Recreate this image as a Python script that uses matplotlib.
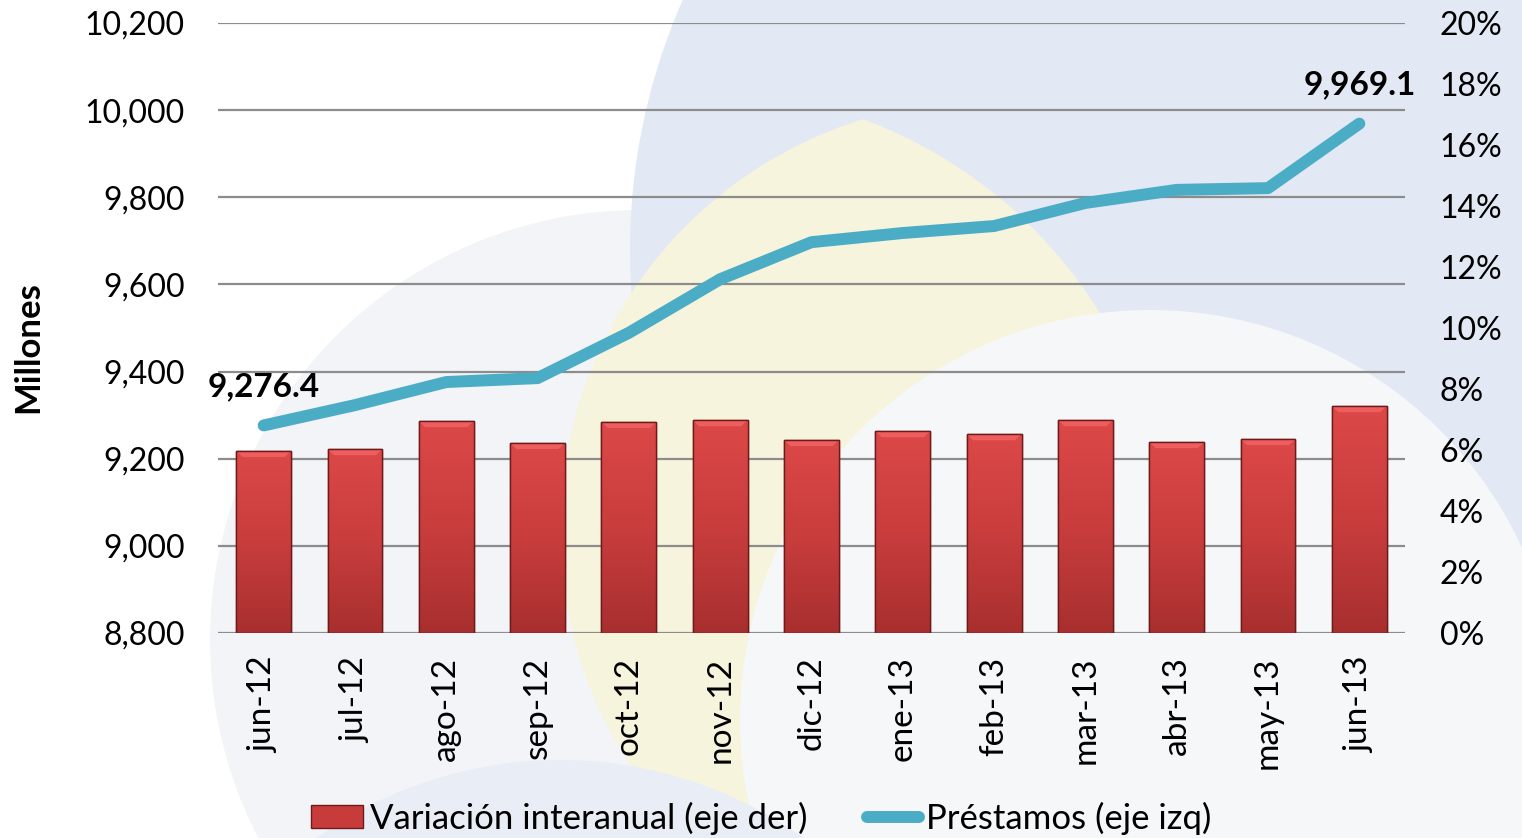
import matplotlib
matplotlib.use("Agg")
import matplotlib.pyplot as plt
import numpy as np
from matplotlib.patches import Circle, Rectangle, Polygon
from matplotlib.lines import Line2D
from matplotlib.ticker import FuncFormatter
from matplotlib.colors import LinearSegmentedColormap
import matplotlib.transforms as mtransforms

plt.rcParams['font.family'] = ['Lato', 'DejaVu Sans']

categories = ["jun-12", "jul-12", "ago-12", "sep-12", "oct-12", "nov-12", "dic-12",
              "ene-13", "feb-13", "mar-13", "abr-13", "may-13", "jun-13"]
variacion = [5.97, 6.03, 6.95, 6.23, 6.92, 6.98, 6.33, 6.62, 6.52, 6.98, 6.26, 6.36, 7.44]
prestamos = [9276.4, 9323, 9376, 9385, 9489, 9612, 9697, 9718, 9734, 9787, 9817, 9821, 9969.1]
left_ticks = [8800, 9000, 9200, 9400, 9600, 9800, 10000, 10200]
right_ticks = [0, 2, 4, 6, 8, 10, 12, 14, 16, 18, 20]

W, H = 1522, 838
fig = plt.figure(figsize=(W / 100, H / 100), dpi=100)
fig.patch.set_facecolor("white")

# decorative background
bg = fig.add_axes([0, 0, 1, 1], zorder=0)
bg.set_xlim(0, W)
bg.set_ylim(H, 0)
bg.axis("off")
bg.add_patch(Circle((640, 640), 430, color="#F2F4F7", lw=0))
bg.add_patch(Circle((1250, 250), 620, color="#E3E9F4", lw=0))
ylw = Circle((990, 530), 430, color="#F7F4DD", lw=0)
bg.add_patch(ylw)
ylw.set_clip_path(Circle((700, 560), 470, transform=bg.transData))
bg.add_patch(Circle((1350, 980), 420, color="#F7F4E2", lw=0))
bg.add_patch(Circle((1150, 720), 410, color="#F6F7F9", lw=0))
bg.add_patch(Circle((560, 1180), 420, color="#E9EDF5", lw=0))

pos = [218 / W, 1 - 633 / H, (1405 - 218) / W, (633 - 23) / H]
ax2 = fig.add_axes(pos, zorder=1)  # bars, right axis
ax = fig.add_axes(pos, zorder=2)   # line, left axis
for a in (ax, ax2):
    a.patch.set_visible(False)
    for s in a.spines.values():
        s.set_visible(False)

x = np.arange(len(categories))

# left axis
ax.set_xlim(-0.5, len(categories) - 0.5)
ax.set_ylim(left_ticks[0], left_ticks[-1])
ax.set_yticks(left_ticks)
ax.yaxis.set_major_formatter(FuncFormatter(lambda v, p: f"{v:,.0f}"))
ax.tick_params(axis="y", length=0, pad=24, labelsize=23, colors="black")
ax.set_xticks(x)
ax.set_xticklabels(categories, rotation=90, fontsize=24)
ax.tick_params(axis="x", length=0, pad=17)
fig.text(28 / W, 1 - 347 / H, "Millones", rotation=90, fontsize=25,
         fontweight="bold", ha="center", va="center")

# right axis
ax2.set_xlim(-0.5, len(categories) - 0.5)
ax2.set_ylim(right_ticks[0], right_ticks[-1])
ax2.set_yticks(right_ticks)
ax2.yaxis.set_major_formatter(FuncFormatter(lambda v, p: f"{v:.0f}%"))
ax2.yaxis.tick_right()
ax2.tick_params(axis="y", length=0, pad=25, labelsize=23, colors="black")
ax2.set_xticks([])

# gridlines from left ticks, drawn beneath the bars
trans = mtransforms.blended_transform_factory(ax2.transAxes, ax.transData)
ax2.hlines(left_ticks, 0, 1, transform=trans, colors="#8C8C8C", lw=1.6, zorder=0.5)

bars = ax2.bar(x, variacion, width=0.6, color="#C73B3B", edgecolor="#6E1A1A",
               linewidth=1.0, zorder=2)
grad = np.linspace(0, 1, 256).reshape(-1, 1)
cmap = LinearSegmentedColormap.from_list("rd", ["#DC4848", "#C93D3D", "#A82F2F"])
for b in bars:
    x0, w, h = b.get_x(), b.get_width(), b.get_height()
    im = ax2.imshow(grad, extent=[x0, x0 + w, 0, h], aspect="auto", cmap=cmap,
                    zorder=2.1, origin="upper")
    im.set_clip_path(b)
    bv = 0.2
    ax2.add_patch(Polygon([(x0, h), (x0 + w, h), (x0 + w - 0.07, h - bv), (x0 + 0.07, h - bv)],
                          closed=True, facecolor="#EE5E5E", edgecolor="none", zorder=2.2))
    ax2.add_patch(Rectangle((x0, 0), w, h, facecolor="none", edgecolor="#6E1A1A",
                            lw=1.0, zorder=2.3))
ax2.set_xlim(-0.5, len(categories) - 0.5)
ax2.set_ylim(right_ticks[0], right_ticks[-1])

line_color = "#4BACC6"
ax.plot(x, prestamos, color=line_color, lw=8.6, solid_capstyle="round",
        solid_joinstyle="round", zorder=3)
for i in (0, len(prestamos) - 1):
    ax.annotate(f"{prestamos[i]:,.1f}", (x[i], prestamos[i]), xytext=(0, 28),
                textcoords="offset points", ha="center", va="center",
                fontsize=24, fontweight="bold")

handles = [Rectangle((0, 0), 1, 1, facecolor="#C73B3B", edgecolor="#6E1A1A"),
           Line2D([0], [0], color=line_color, lw=8.6, solid_capstyle="round")]
fig.legend(handles, ["Variación interanual (eje der)", "Préstamos (eje izq)"],
           loc="center", bbox_to_anchor=(0.5, 1 - 818 / H), ncol=2, frameon=False,
           fontsize=25, handlelength=1.5, handleheight=0.65, handletextpad=0.2,
           columnspacing=1.7)

fig.savefig("out.png", dpi=100)
